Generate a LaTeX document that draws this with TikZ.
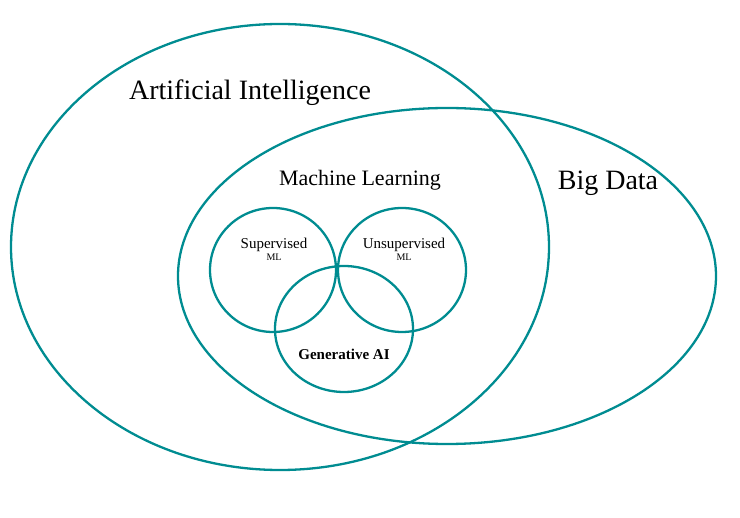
\documentclass[tikz,border=0pt]{standalone}
\usepackage{fontspec}
\setmainfont{Liberation Serif}
\definecolor{teal2}{RGB}{0,140,145}
\begin{document}
\begin{tikzpicture}[x=1pt,y=-1pt,
  ring/.style={draw=teal2,line width=2.3pt}]
\useasboundingbox (0,0) rectangle (740,518);
\draw[ring] (280,247) ellipse [x radius=269,y radius=223];
\draw[ring] (447,276) ellipse [x radius=269,y radius=168];
\draw[ring] (273,270) ellipse [x radius=63,y radius=62];
\draw[ring] (402,270) ellipse [x radius=64,y radius=62];
\draw[ring] (344,329) ellipse [x radius=69,y radius=63];
\node (ai) at (250,93) {\fontsize{28}{30}\selectfont Artificial Intelligence};
\node (ml) at (360,180) {\fontsize{22}{24}\selectfont Machine Learning};
\node (bd) at (608,183) {\fontsize{28}{30}\selectfont Big Data};
\node[align=center] (sup) at (274,249) {\fontsize{15}{20}\selectfont Supervised\\ML};
\node[align=center] (uns) at (404,249) {\fontsize{15}{20}\selectfont Unsupervised\\ML};
\node (gen) at (344,354) {\fontsize{15}{18}\selectfont\bfseries Generative AI};
\end{tikzpicture}
\end{document}
